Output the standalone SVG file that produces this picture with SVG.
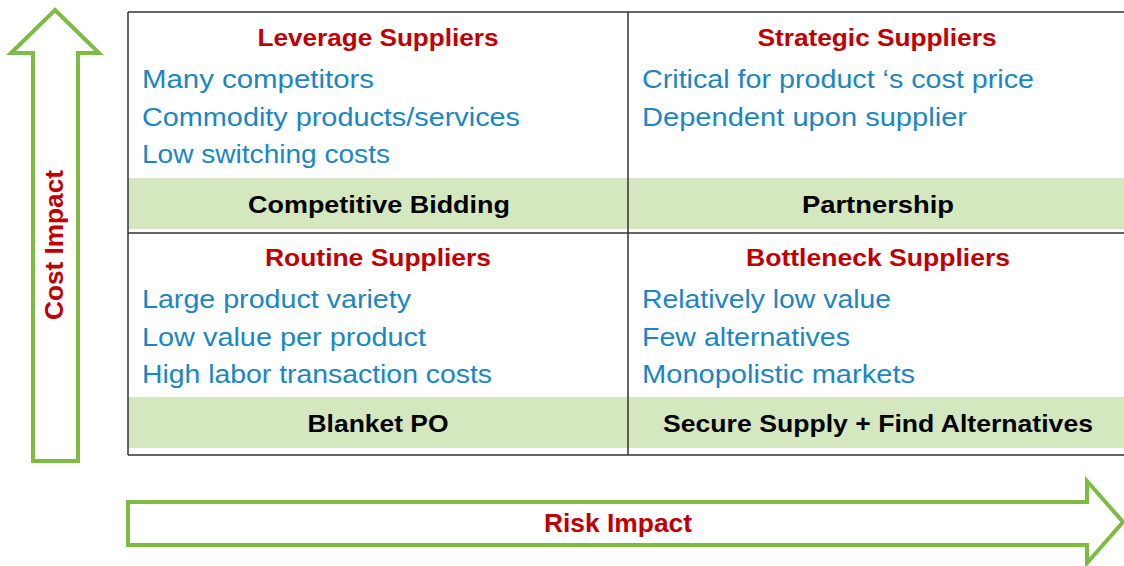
<svg xmlns="http://www.w3.org/2000/svg" width="1124" height="566" viewBox="0 0 1124 566">
<style>
.arrow{fill:#ffffff;stroke:#7dbb42;stroke-width:4;stroke-linejoin:miter}
.grid{stroke:#333333;stroke-width:1.5;fill:none}
.band{fill:#d4e7bf}
.title{font-family:"Liberation Sans",Arial,sans-serif;font-weight:bold;font-size:24px;fill:#c00000;text-anchor:middle}
.item{font-family:"Liberation Sans",Arial,sans-serif;font-size:25px;fill:#1b86c2}
.action{font-family:"Liberation Sans",Arial,sans-serif;font-weight:bold;font-size:24px;fill:#000000;text-anchor:middle}
.axis{font-family:"Liberation Sans",Arial,sans-serif;font-weight:bold;font-size:25px;fill:#c00000;text-anchor:middle}
</style>
<rect width="1124" height="566" fill="#ffffff"/>
<g id="cost-axis">
<polygon class="arrow" points="55,10 99,53 78,53 78,461 33,461 33,53 11,53"/>
<text class="axis" transform="translate(63,245) rotate(-90)" textLength="150" lengthAdjust="spacingAndGlyphs">Cost Impact</text>
</g>
<g id="risk-axis">
<polygon class="arrow" points="128,502 1087,502 1087,481 1123,522 1087,563 1087,545 128,545"/>
<text class="axis" x="618" y="532" textLength="148" lengthAdjust="spacingAndGlyphs">Risk Impact</text>
</g>
<g id="bands">
<rect class="band" x="128" y="178" width="996" height="51"/>
<rect class="band" x="128" y="397" width="996" height="51"/>
</g>
<g id="connectors">
<line class="grid" x1="128" y1="12" x2="1124" y2="12"/>
<line class="grid" x1="128" y1="233" x2="1124" y2="233"/>
<line class="grid" x1="128" y1="455" x2="1124" y2="455"/>
<line class="grid" x1="128" y1="12" x2="128" y2="455"/>
<line class="grid" x1="628" y1="12" x2="628" y2="455"/>
</g>
<g id="leverage">
<text class="title" x="378" y="46" textLength="241" lengthAdjust="spacingAndGlyphs">Leverage Suppliers</text>
<text class="item" x="142" y="88" textLength="232" lengthAdjust="spacingAndGlyphs">Many competitors</text>
<text class="item" x="142" y="126" textLength="378" lengthAdjust="spacingAndGlyphs">Commodity products/services</text>
<text class="item" x="142" y="163" textLength="248" lengthAdjust="spacingAndGlyphs">Low switching costs</text>
<text class="action" x="379" y="213" textLength="262" lengthAdjust="spacingAndGlyphs">Competitive Bidding</text>
</g>
<g id="strategic">
<text class="title" x="877" y="46" textLength="239" lengthAdjust="spacingAndGlyphs">Strategic Suppliers</text>
<text class="item" x="642" y="88" textLength="392" lengthAdjust="spacingAndGlyphs">Critical for product ‘s cost price</text>
<text class="item" x="642" y="126" textLength="325" lengthAdjust="spacingAndGlyphs">Dependent upon supplier</text>
<text class="action" x="878" y="213" textLength="152" lengthAdjust="spacingAndGlyphs">Partnership</text>
</g>
<g id="routine">
<text class="title" x="378" y="266" textLength="226" lengthAdjust="spacingAndGlyphs">Routine Suppliers</text>
<text class="item" x="142" y="308" textLength="269" lengthAdjust="spacingAndGlyphs">Large product variety</text>
<text class="item" x="142" y="346" textLength="284" lengthAdjust="spacingAndGlyphs">Low value per product</text>
<text class="item" x="142" y="383" textLength="350" lengthAdjust="spacingAndGlyphs">High labor transaction costs</text>
<text class="action" x="378" y="432" textLength="141" lengthAdjust="spacingAndGlyphs">Blanket PO</text>
</g>
<g id="bottleneck">
<text class="title" x="878" y="266" textLength="264" lengthAdjust="spacingAndGlyphs">Bottleneck Suppliers</text>
<text class="item" x="642" y="308" textLength="249" lengthAdjust="spacingAndGlyphs">Relatively low value</text>
<text class="item" x="642" y="346" textLength="208" lengthAdjust="spacingAndGlyphs">Few alternatives</text>
<text class="item" x="642" y="383" textLength="273" lengthAdjust="spacingAndGlyphs">Monopolistic markets</text>
<text class="action" x="878" y="432" textLength="430" lengthAdjust="spacingAndGlyphs">Secure Supply + Find Alternatives</text>
</g>
</svg>
